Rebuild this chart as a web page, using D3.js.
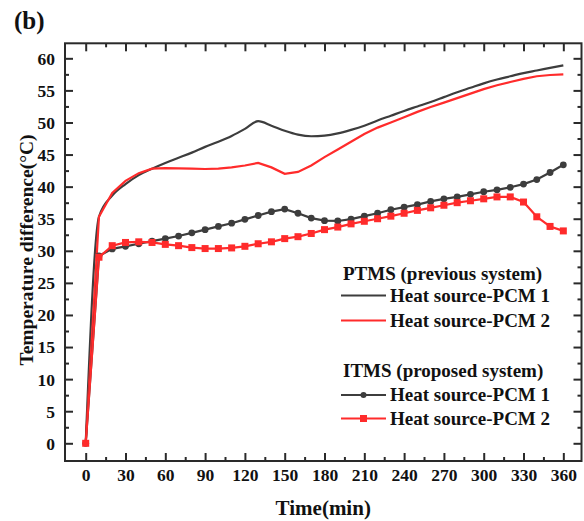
<!DOCTYPE html>
<html>
<head>
<meta charset="utf-8">
<script src="https://cdn.jsdelivr.net/npm/d3@7/dist/d3.min.js"></script>
<style>
  html, body { margin: 0; padding: 0; background: #fff; }
  svg { display: block; }
  text { font-family: "Liberation Serif", "Times New Roman", serif; font-weight: bold; fill: #111; }
</style>
</head>
<body>
<svg id="chart" width="584" height="521"></svg>
<script>
// ---------- data ----------
const time = [0,10,20,30,40,50,60,70,80,90,100,110,120,130,140,150,160,170,180,190,200,210,220,230,240,250,260,270,280,290,300,310,320,330,340,350,360];
const ptmsPCM1 = [0,35.3,38.6,40.4,41.8,42.8,43.7,44.5,45.3,46.2,47.0,47.9,49.0,50.2,49.5,48.7,48.1,47.85,47.95,48.3,48.85,49.5,50.3,51.05,51.8,52.5,53.2,53.95,54.7,55.4,56.1,56.7,57.2,57.7,58.1,58.5,58.9];
const ptmsPCM2 = [0,35.3,39.0,40.9,42.1,42.8,42.9,42.85,42.8,42.75,42.8,43.0,43.3,43.7,43.0,42.0,42.3,43.3,44.6,45.8,47.0,48.2,49.2,50.0,50.8,51.65,52.4,53.1,53.8,54.5,55.2,55.8,56.3,56.8,57.2,57.4,57.5];
const itmsPCM1 = [0,29.2,30.3,30.7,31.1,31.5,31.9,32.3,32.8,33.3,33.8,34.3,34.9,35.5,36.1,36.5,35.85,35.1,34.7,34.65,34.95,35.4,35.85,36.4,36.8,37.2,37.7,38.1,38.4,38.8,39.2,39.5,39.9,40.4,41.1,42.2,43.4];
const itmsPCM2 = [0,29.0,30.8,31.3,31.4,31.3,31.0,30.8,30.5,30.35,30.35,30.45,30.7,31.1,31.4,31.9,32.2,32.7,33.3,33.7,34.2,34.6,35.0,35.4,35.85,36.3,36.7,37.1,37.5,37.8,38.1,38.4,38.4,37.6,35.3,33.8,33.1];
const xTicks = [0,30,60,90,120,150,180,210,240,270,300,330,360];
const yTicks = [0,5,10,15,20,25,30,35,40,45,50,55,60];
const legendGroups = ["PTMS (previous system)", "ITMS (proposed system)"];
const legendLabels = ["Heat source-PCM 1", "Heat source-PCM 2"];

const BLACK = "#3d3d3d", RED = "#ff2b2b";

// ---------- layout ----------
const L = 65, R = 581.5, T = 43.3, B = 461;
const svg = d3.select("#chart");
const x = d3.scaleLinear().domain([-15.6, 373.7]).range([L, R]);
const y = d3.scaleLinear().domain([-2.76, 62.34]).range([B, T]);

const xMinor = d3.range(15, 360, 30);
const yMinor = d3.range(2.5, 60, 5);

// frame
svg.append("rect").attr("x", L).attr("y", T).attr("width", R - L).attr("height", B - T)
  .attr("fill", "none").attr("stroke", "#2a2a2a").attr("stroke-width", 2);

// axes (ticks inward)
function ax(gen, tr, ticks, size, fmt) {
  const g = svg.append("g").attr("transform", tr)
    .call(gen.tickValues(ticks).tickSize(size).tickSizeOuter(0).tickFormat(fmt));
  g.select(".domain").remove();
  g.selectAll(".tick line").attr("stroke", "#2a2a2a").attr("stroke-width", 2);
  return g;
}
const none = () => "";
// bottom
const gb = ax(d3.axisBottom(x), `translate(0,${B})`, xTicks, -8, d3.format("d"));
gb.selectAll(".tick text").attr("y", 20).attr("dy", 0).style("font-size", "17.5px").attr("fill", "#111");
ax(d3.axisBottom(x), `translate(0,${B})`, xMinor, -4, none);
// top
ax(d3.axisTop(x), `translate(0,${T})`, xTicks, -8, none);
ax(d3.axisTop(x), `translate(0,${T})`, xMinor, -4, none);
// left
const gl = ax(d3.axisLeft(y), `translate(${L},0)`, yTicks, -8, d3.format("d"));
gl.selectAll(".tick text").attr("x", -10).attr("dy", "0.34em").style("font-size", "17.5px").attr("fill", "#111");
ax(d3.axisLeft(y), `translate(${L},0)`, yMinor, -4, none);
// right
ax(d3.axisRight(y), `translate(${R},0)`, yTicks, -8, none);
ax(d3.axisRight(y), `translate(${R},0)`, yMinor, -4, none);

// axis titles
svg.append("text").attr("x", (L + R) / 2).attr("y", 515).attr("text-anchor", "middle")
  .style("font-size", "21px").text("Time(min)");
svg.append("text").attr("transform", `translate(33,250) rotate(-90)`).attr("text-anchor", "middle")
  .style("font-size", "19.5px").text("Temperature difference(°C)");
svg.append("text").attr("x", 14).attr("y", 29).style("font-size", "25px").text("(b)");

// ---------- series ----------
const line = d3.line().x((d, i) => x(time[i])).y(d => y(d)).curve(d3.curveLinear);
const smooth = d3.line().x((d, i) => x(time[i])).y(d => y(d)).curve(d3.curveMonotoneX);

svg.append("path").attr("d", smooth(ptmsPCM1)).attr("fill", "none").attr("stroke", BLACK).attr("stroke-width", 2.2);
svg.append("path").attr("d", line(ptmsPCM2)).attr("fill", "none").attr("stroke", RED).attr("stroke-width", 2.2);

svg.append("path").attr("d", line(itmsPCM1)).attr("fill", "none").attr("stroke", BLACK).attr("stroke-width", 2.2);
svg.append("g").selectAll("circle").data(itmsPCM1).join("circle")
  .attr("cx", (d, i) => x(time[i])).attr("cy", d => y(d)).attr("r", 3.4).attr("fill", BLACK);

svg.append("path").attr("d", line(itmsPCM2)).attr("fill", "none").attr("stroke", RED).attr("stroke-width", 2.2);
svg.append("g").selectAll("rect").data(itmsPCM2).join("rect")
  .attr("x", (d, i) => x(time[i]) - 3.5).attr("y", d => y(d) - 3.5).attr("width", 7).attr("height", 7).attr("fill", RED);

// ---------- legend ----------
const lg = svg.append("g");
const lx0 = 341, lx1 = 386, tx = 390;
const groupY = [279.5, 377];
const rowY = [[295.5, 320.5], [395, 418.5]];
const colors = [BLACK, RED];
legendGroups.forEach((gName, gi) => {
  lg.append("text").attr("x", 343).attr("y", groupY[gi]).style("font-size", "19px").text(gName);
  legendLabels.forEach((lab, li) => {
    const yy = rowY[gi][li];
    lg.append("line").attr("x1", lx0).attr("x2", lx1).attr("y1", yy).attr("y2", yy)
      .attr("stroke", colors[li]).attr("stroke-width", 2.2);
    if (gi === 1) {
      const cx = (lx0 + lx1) / 2;
      if (li === 0) lg.append("circle").attr("cx", cx).attr("cy", yy).attr("r", 3).attr("fill", BLACK);
      else lg.append("rect").attr("x", cx - 3.5).attr("y", yy - 3.5).attr("width", 7).attr("height", 7).attr("fill", RED);
    }
    lg.append("text").attr("x", tx).attr("y", yy + 6.3).style("font-size", "19px").text(lab);
  });
});
</script>
</body>
</html>
